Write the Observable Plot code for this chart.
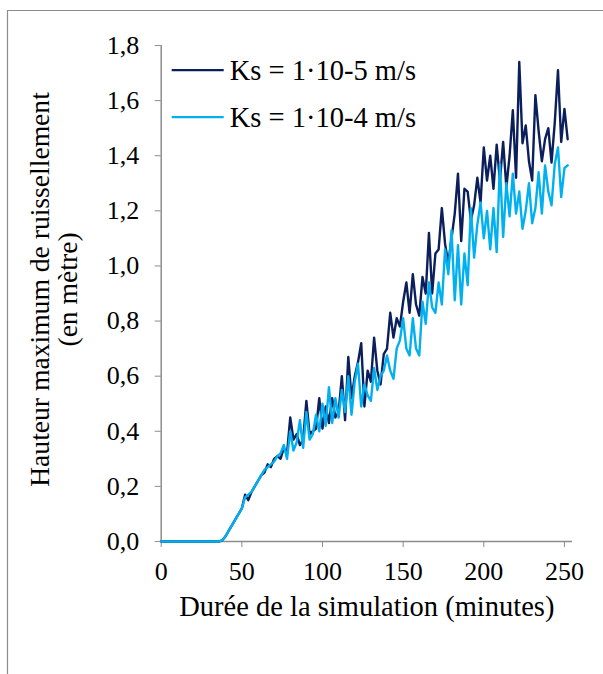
<!DOCTYPE html>
<html>
<head>
<meta charset="utf-8">
<script src="https://cdn.jsdelivr.net/npm/d3@7"></script>
<script src="https://cdn.jsdelivr.net/npm/@observablehq/plot@0.6"></script>
<style>
  html, body { margin: 0; padding: 0; background: #fff; }
</style>
</head>
<body>
<div id="chart"></div>
<script>
// Time axis: minutes, sampled every 2 minutes starting at 0
const startMinute = 0;
const stepMinutes = 2;

// Ks = 1·10-5 m/s (dark blue)
const ks5 = [
  0,0,0,0,0,0,0,0,0,0,0,0,0,0,0,0,0,0,0,        // 0-36
  0.005,0.02,0.04,0.06,0.08,0.10,0.12,0.17,0.15,0.18, // 38-56
  0.20,0.22,0.24,0.25,0.28,0.27,0.30,0.31,0.30,0.34,  // 58-76
  0.32,0.45,0.37,0.39,0.35,0.37,0.51,0.39,0.40,0.41,  // 78-96
  0.52,0.41,0.49,0.43,0.52,0.45,0.47,0.60,0.44,0.67,  // 98-116
  0.52,0.60,0.65,0.72,0.49,0.62,0.58,0.74,0.62,0.57,  // 118-136
  0.68,0.70,0.83,0.74,0.81,0.78,0.87,0.94,0.83,0.97,  // 138-156
  0.86,0.82,0.96,0.90,1.12,0.90,1.045,1.06,1.21,1.08, // 158-176
  1.01,1.10,1.19,1.335,1.09,1.28,1.27,1.165,1.22,1.32,// 178-196
  1.23,1.43,1.31,1.40,1.28,1.44,1.31,1.45,1.285,1.40, // 198-216
  1.565,1.32,1.74,1.445,1.51,1.38,1.31,1.62,1.49,1.38,// 218-236
  1.46,1.50,1.375,1.52,1.71,1.45,1.57,1.46            // 238-252
];

// Ks = 1·10-4 m/s (light blue)
const ks4 = [
  0,0,0,0,0,0,0,0,0,0,0,0,0,0,0,0,0,0,0,        // 0-36
  0.005,0.02,0.04,0.06,0.08,0.10,0.12,0.16,0.17,0.18, // 38-56
  0.20,0.22,0.24,0.26,0.27,0.28,0.29,0.31,0.32,0.35,  // 58-76
  0.30,0.40,0.33,0.36,0.44,0.34,0.47,0.37,0.39,0.46,  // 78-96
  0.40,0.50,0.42,0.56,0.43,0.52,0.45,0.55,0.47,0.60,  // 98-116
  0.46,0.58,0.645,0.49,0.57,0.53,0.51,0.63,0.55,0.60, // 118-136
  0.62,0.675,0.62,0.59,0.70,0.73,0.81,0.70,0.675,0.81,// 138-156
  0.70,0.675,0.87,0.79,0.94,0.85,0.83,0.94,0.86,1.06, // 158-176
  0.97,1.13,0.875,1.075,0.86,1.045,0.93,1.21,1.03,1.15,// 178-196
  1.23,1.10,1.20,1.06,1.21,1.05,1.37,1.105,1.30,1.18, // 198-216
  1.335,1.19,1.27,1.135,1.20,1.30,1.155,1.21,1.34,1.19,// 218-236
  1.365,1.27,1.22,1.37,1.43,1.25,1.355,1.365          // 238-252
];

const seriesNames = ["Ks = 1\u00b710-5 m/s", "Ks = 1\u00b710-4 m/s"];
const seriesColors = ["#0a1f5c", "#00b0f0"];
const yTicks = [0, 0.2, 0.4, 0.6, 0.8, 1.0, 1.2, 1.4, 1.6, 1.8];
const xTicks = [0, 50, 100, 150, 200, 250];
const xLabel = "Durée de la simulation (minutes)";
const yLabel = "Hauteur maximum de ruissellement\n(en mètre)";

const rows = [];
[ks5, ks4].forEach((arr, s) => {
  arr.forEach((v, i) => rows.push({t: startMinute + i * stepMinutes, v, s: seriesNames[s]}));
});

const font = "'Liberation Serif', 'DejaVu Serif', serif";
const fs = 26;     // tick labels
const fsL = 28.5;  // x title and legend
const fsY = 27.6;  // y title

// Outer chart-area border (open at right and bottom, as in the cropped original)
const borderMark = (index, scales, values, dim) => {
  const g = d3.create("svg:g");
  g.append("path")
    .attr("d", `M7.5,${dim.height} V10.5 H${dim.width}`)
    .attr("fill", "none").attr("stroke", "#8c8c8c").attr("stroke-width", 1.2);
  return g.node();
};

const legendMark = (index, scales, values, dim) => {
  const g = d3.create("svg:g");
  const x0 = dim.marginLeft + 11, y0 = dim.marginTop + 25, gap = 47;
  seriesNames.forEach((name, i) => {
    const y = y0 + i * gap;
    g.append("line").attr("x1", x0).attr("x2", x0 + 52).attr("y1", y).attr("y2", y)
      .attr("stroke", seriesColors[i]).attr("stroke-width", 2.25);
    g.append("text").attr("x", x0 + 58).attr("y", y).attr("dy", "0.35em")
      .attr("text-anchor", "start")
      .attr("font-family", font).attr("font-size", fsL).attr("fill", "#000").text(name);
  });
  return g.node();
};

const chart = Plot.plot({
  width: 603,
  height: 674,
  marginLeft: 160.7,
  marginRight: 31,
  marginTop: 45,
  marginBottom: 133,
  style: {fontFamily: font, fontSize: fs + "px", color: "#000", background: "#fff"},
  x: {domain: [0, 255]},
  y: {domain: [0, 1.8]},
  color: {domain: seriesNames, range: seriesColors},
  marks: [
    borderMark,
    Plot.ruleY([0], {stroke: "#8c8c8c", strokeWidth: 1.5}),
    Plot.ruleX([0], {stroke: "#8c8c8c", strokeWidth: 1.5}),
    Plot.axisX({ticks: xTicks, tickSize: 6, tickPadding: 14, stroke: "#8c8c8c", fill: "#000", label: null, fontSize: fs}),
    Plot.axisY({ticks: yTicks, tickSize: 6, tickPadding: 16, stroke: "#8c8c8c", fill: "#000", label: null, fontSize: fs,
      tickFormat: d => d3.format(".1f")(d).replace(".", ",")}),
    Plot.line(rows, {x: "t", y: "v", z: "s", stroke: "s", strokeWidth: 2.4, curve: "linear"}),
    Plot.text([xLabel], {frameAnchor: "bottom", dy: 74, fontSize: fsL, fill: "#000", text: d => d}),
    Plot.text([yLabel], {frameAnchor: "left", textAnchor: "middle", lineAnchor: "middle", dx: -107, dy: -4, rotate: -90,
      fontSize: fsY, fill: "#000", lineHeight: 1.0, text: d => d}),
    legendMark
  ]
});
document.getElementById("chart").appendChild(chart);
</script>
</body>
</html>
